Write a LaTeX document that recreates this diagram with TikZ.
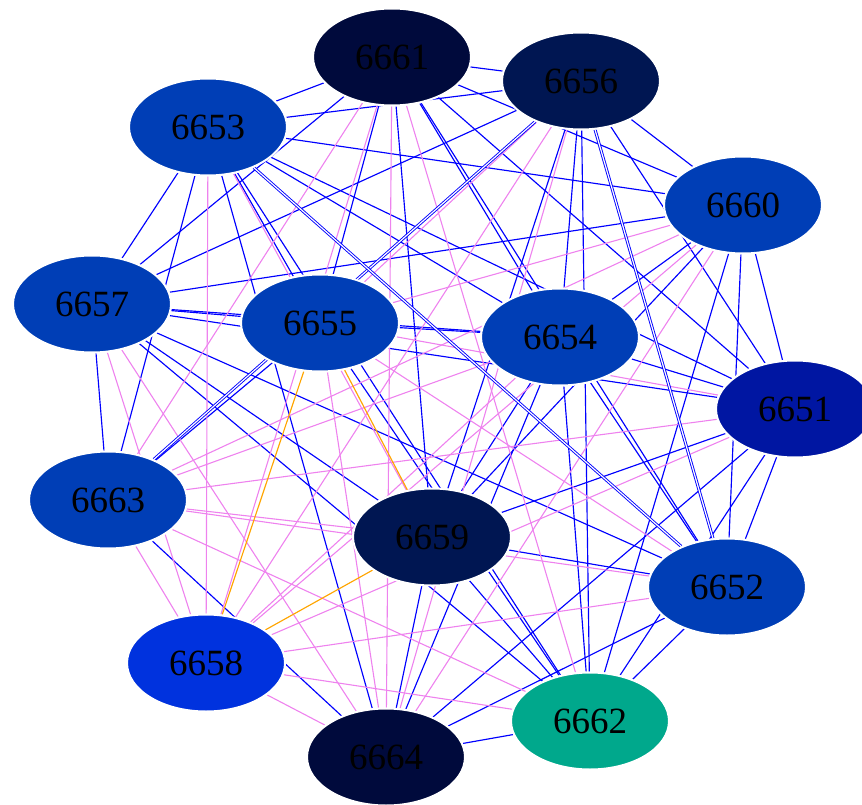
\documentclass[tikz,border=0pt]{standalone}
\usepackage{fontspec}
\setmainfont{Liberation Serif}
\usetikzlibrary{shapes.geometric}
\pgfdeclarelayer{background}
\pgfsetlayers{background,main}
\definecolor{cNavy}{RGB}{0,10,60}
\definecolor{cDark}{RGB}{0,22,82}
\definecolor{cMid}{RGB}{0,62,182}
\definecolor{cDeep}{RGB}{0,22,162}
\definecolor{cBright}{RGB}{0,50,222}
\definecolor{cTeal}{RGB}{0,168,140}
\definecolor{eBlue}{RGB}{0,0,255}
\definecolor{eViolet}{RGB}{238,130,238}
\definecolor{eOrange}{RGB}{255,165,0}
\tikzset{
  gnode/.style={ellipse, minimum width=158pt, minimum height=97pt, inner sep=0pt,
    draw=white, line width=2pt, font=\fontsize{37}{37}\selectfont, text=black},
  eb/.style={draw=eBlue, line width=1.15pt},
  ev/.style={draw=eViolet, line width=1.1pt},
  eo/.style={draw=eOrange, line width=1.15pt},
  ed/.style={draw=eBlue, line width=0.9pt, double=white, double distance=1.2pt},
}
\begin{document}
\begin{tikzpicture}[x=1pt,y=-1pt]
\useasboundingbox (0,0) rectangle (862,805);
\node[gnode, fill=cNavy]   (n61) at (392,57)  {6661};
\node[gnode, fill=cDark]   (n56) at (581,81)  {6656};
\node[gnode, fill=cMid]    (n53) at (208,127) {6653};
\node[gnode, fill=cMid]    (n60) at (743,205) {6660};
\node[gnode, fill=cMid]    (n57) at (92,304)  {6657};
\node[gnode, fill=cMid]    (n55) at (320,323) {6655};
\node[gnode, fill=cMid]    (n54) at (560,337) {6654};
\node[gnode, fill=cDeep]   (n51) at (795,409) {6651};
\node[gnode, fill=cMid]    (n63) at (108,500) {6663};
\node[gnode, fill=cDark]   (n59) at (432,537) {6659};
\node[gnode, fill=cMid]    (n52) at (727,587) {6652};
\node[gnode, fill=cBright] (n58) at (206,663) {6658};
\node[gnode, fill=cTeal]   (n62) at (590,721) {6662};
\node[gnode, fill=cNavy]   (n64) at (386,757) {6664};
\begin{pgfonlayer}{background}
\foreach \a/\b in {61/56,61/53,61/60,61/57,61/55,61/54,61/51,61/59,61/52,
  56/53,56/60,56/57,56/54,56/51,56/59,56/62,
  53/60,53/57,53/55,53/54,53/51,53/63,53/62,53/64,
  60/57,60/54,60/51,60/59,60/52,60/62,
  57/55,57/54,57/51,57/63,57/59,57/52,57/62,
  55/54,55/63,55/62,
  54/51,54/59,54/52,54/62,54/64,
  51/59,51/52,51/62,51/64,
  63/64,59/52,59/62,59/64,52/62,52/64,62/64}
  \draw[eb] (n\a) -- (n\b);
\foreach \a/\b in {61/63,61/58,61/62,61/64,
  56/55,56/58,56/64,
  53/59,53/58,
  60/55,60/63,60/58,60/64,
  57/58,57/64,
  55/51,55/52,55/64,
  54/63,54/58,
  51/63,51/58,
  63/59,63/52,63/58,63/62,
  52/58,58/62,58/64}
  \draw[ev] (n\a) -- (n\b);
\foreach \a/\b in {55/59,55/58,59/58}
  \draw[eo] (n\a) -- (n\b);
\foreach \a/\b in {56/63,56/52,53/52}
  \draw[ed] (n\a) -- (n\b);
\end{pgfonlayer}
\end{tikzpicture}
\end{document}
